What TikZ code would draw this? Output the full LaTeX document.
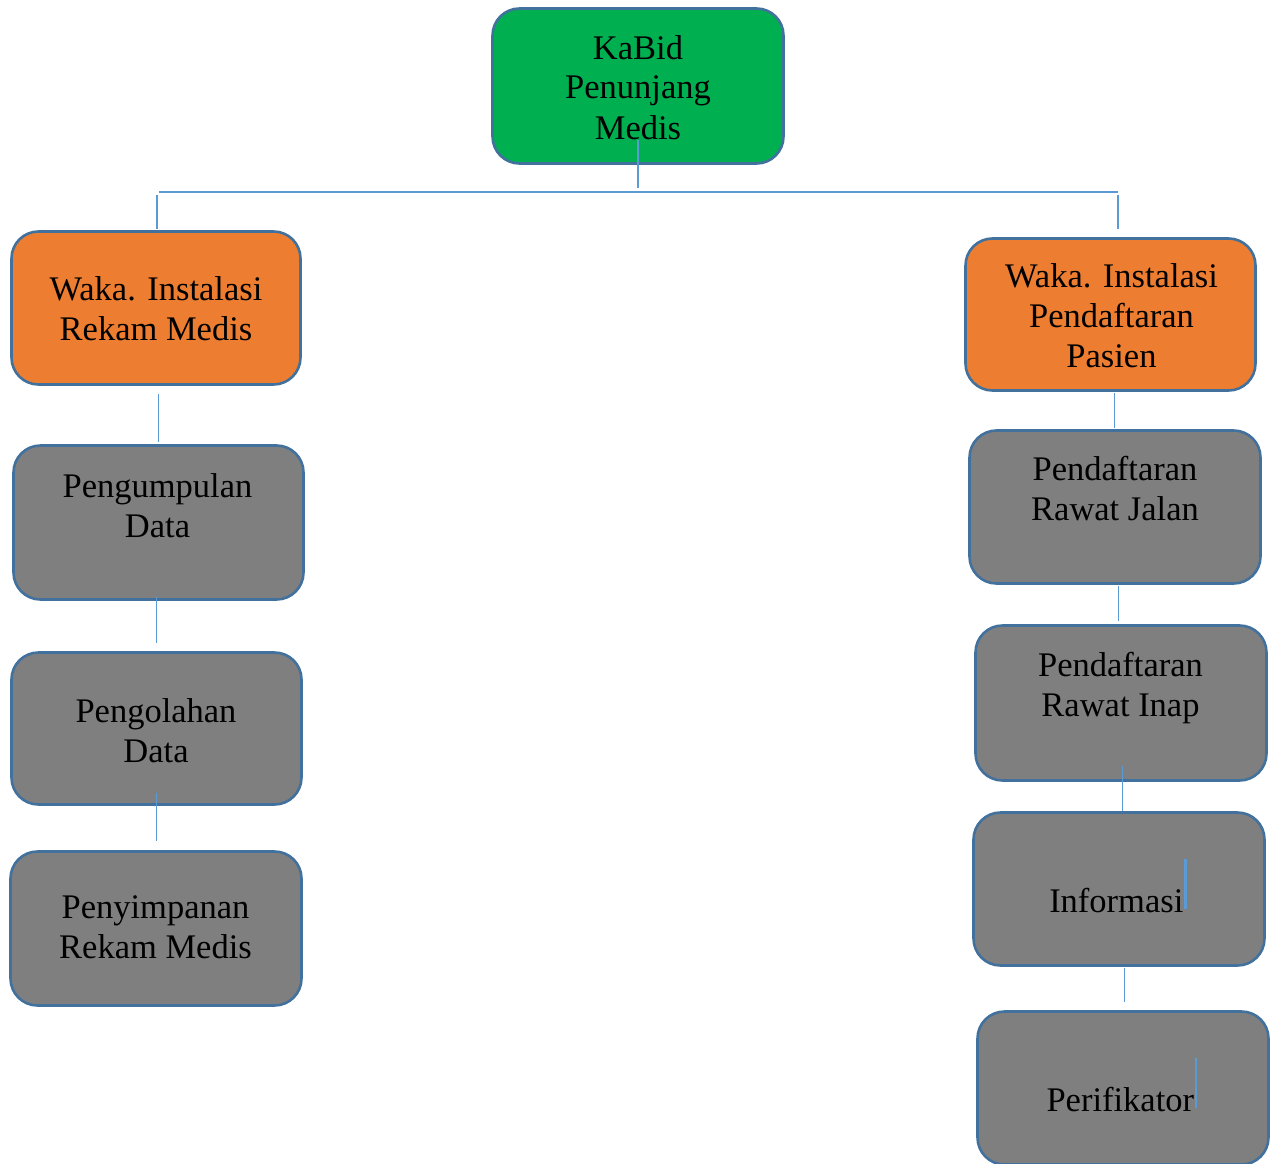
\documentclass[tikz,border=0pt]{standalone}
\usepackage{fontspec}
\setmainfont{Liberation Serif}
\definecolor{kgreen}{HTML}{00B050}
\definecolor{korange}{HTML}{ED7D31}
\definecolor{kgray}{HTML}{7F7F7F}
\definecolor{kborder}{HTML}{41719C}
\definecolor{kconn}{HTML}{5B9BD5}
\tikzset{
  box/.style={draw=kborder, line width=2.6pt, rounded corners=27pt, inner sep=0pt, outer sep=0pt,
              minimum width=291pt, minimum height=153pt},
  greenbox/.style={box, fill=kgreen},
  orangebox/.style={box, fill=korange},
  graybox/.style={box, fill=kgray},
  txt/.style={inner sep=0pt, outer sep=0pt, align=center, text=black,
              font=\fontsize{34.5pt}{40pt}\selectfont},
  conn/.style={draw=kconn, line width=1.4pt},
  cursorline/.style={draw=kconn, line width=2.6pt}
}
\newcommand{\sline}[1]{\strut #1}
\begin{document}
\begin{tikzpicture}[x=1pt,y=-1pt]
\useasboundingbox (0,0) rectangle (1274,1164);
% boxes
\node[greenbox, minimum width=291pt, minimum height=155pt] (kabid) at (638,86) {};
\node[orangebox, minimum width=289pt] (wakaL) at (156,308) {};
\node[orangebox, minimum width=290pt, minimum height=152pt] (wakaR) at (1110.5,314.5) {};
\node[graybox, minimum width=290pt, minimum height=154pt] (peng) at (158.5,522.5) {};
\node[graybox, minimum width=290pt, minimum height=152pt] (olah) at (156.5,728.5) {};
\node[graybox, minimum height=154pt] (simpan) at (156,928.5) {};
\node[graybox] (jalan) at (1115,507) {};
\node[graybox, minimum height=155pt] (inap) at (1121,703) {};
\node[graybox] (info) at (1119,889) {};
\node[graybox] (perif) at (1123,1088) {};
% texts
\node[txt] (tkabid) at (638,91) {\sline{KaBid}\\\sline{Penunjang}\\\sline{Medis}};
\node[txt] (twakaL) at (156,312) {\sline{Waka. Instalasi}\\\sline{Rekam Medis}};
\node[txt] (twakaR) at (1111.5,319) {\sline{Waka. Instalasi}\\\sline{Pendaftaran}\\\sline{Pasien}};
\node[txt] (tpeng) at (157.5,509) {\sline{Pengumpulan}\\\sline{Data}};
\node[txt] (tolah) at (156,734) {\sline{Pengolahan}\\\sline{Data}};
\node[txt] (tsimpan) at (155.5,930) {\sline{Penyimpanan}\\\sline{Rekam Medis}};
\node[txt] (tjalan) at (1115,492) {\sline{Pendaftaran}\\\sline{Rawat Jalan}};
\node[txt] (tinap) at (1120.5,688) {\sline{Pendaftaran}\\\sline{Rawat Inap}};
\node[txt] (tinfo) at (1116.3,904) {\sline{Informasi}};
\node[txt] (tperif) at (1120.3,1103) {\sline{Perifikator}};
% connector coordinates
\coordinate (k1) at (638,140);
\coordinate (k2) at (638,188);
\coordinate (h1) at (159,192);
\coordinate (h2) at (1118,192);
\coordinate (l1) at (157,195);
\coordinate (l2) at (157,229);
\coordinate (r1) at (1118,195);
\coordinate (r2) at (1118,229);
\coordinate (a1) at (158.3,394);
\coordinate (a2) at (158.3,442);
\coordinate (b1) at (156.7,597);
\coordinate (b2) at (156.7,643);
\coordinate (c1) at (156.7,793);
\coordinate (c2) at (156.7,841);
\coordinate (d1) at (1114.7,393);
\coordinate (d2) at (1114.7,428);
\coordinate (e1) at (1118.7,586);
\coordinate (e2) at (1118.7,621);
\coordinate (f1) at (1122.7,766);
\coordinate (f2) at (1122.7,811);
\coordinate (g1) at (1124.7,968);
\coordinate (g2) at (1124.7,1002);
\coordinate (m1) at (1185.6,859);
\coordinate (m2) at (1185.6,909);
\coordinate (n1) at (1196,1058);
\coordinate (n2) at (1196,1108);
% connectors
\draw[conn] (k1) -- (k2);
\draw[conn] (h1) -- (h2);
\draw[conn] (l1) -- (l2);
\draw[conn] (r1) -- (r2);
\draw[conn] (a1) -- (a2);
\draw[conn] (b1) -- (b2);
\draw[conn] (c1) -- (c2);
\draw[conn] (d1) -- (d2);
\draw[conn] (e1) -- (e2);
\draw[conn] (f1) -- (f2);
\draw[conn] (g1) -- (g2);
\draw[cursorline] (m1) -- (m2);
\draw[cursorline] (n1) -- (n2);
\end{tikzpicture}
\end{document}
